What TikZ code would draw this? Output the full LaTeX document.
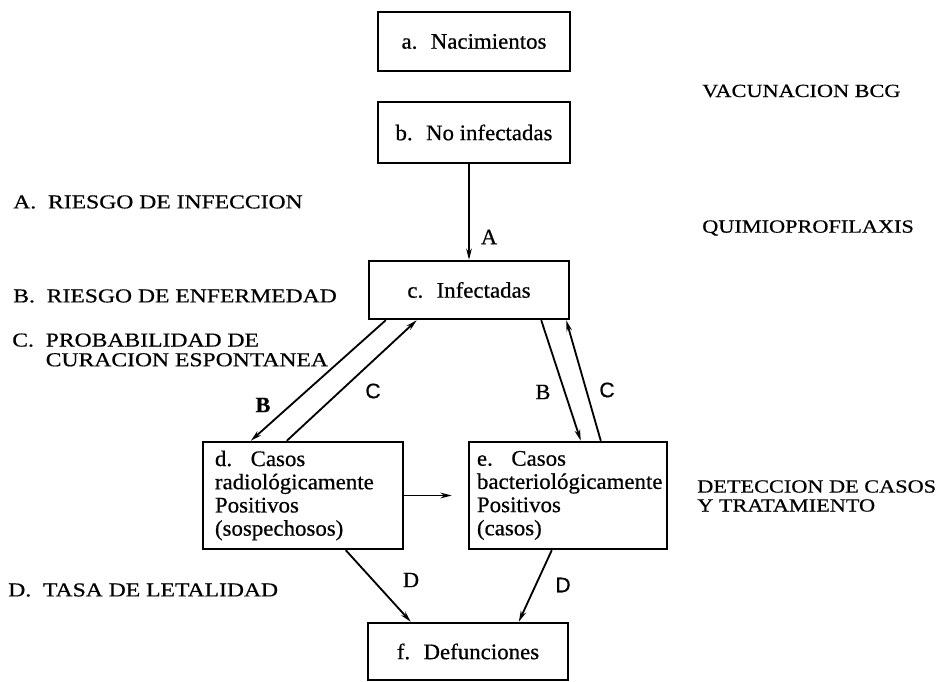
\documentclass[tikz,border=0pt]{standalone}
\usepackage{fontspec}
\setmainfont[FakeStretch=1.03,FakeBold=0.6]{Liberation Serif}
\newfontfamily\capsfont[FakeStretch=1.2,FakeBold=0.6]{Liberation Serif}
\newfontfamily\lettersans[FakeBold=0.6]{Liberation Sans}
\usetikzlibrary{positioning,calc,arrows.meta}

\begin{document}
\begin{tikzpicture}[x=0.025cm, y=-0.025cm,
  box/.style={draw, line width=1.7pt, minimum width=5cm, minimum height=1.5cm, font={\fontsize{15.8}{16.5}\selectfont\hyphenpenalty=10000}},
  casebox/.style={box, minimum height=2.675cm, align=left, inner xsep=#1, text width=5cm-2*#1},
  flow/.style={-{Stealth[length=8pt,width=4pt]}, line width=1.3pt},
  risk/.style={anchor=west, align=left, inner sep=0pt, font=\capsfont\fontsize{14}{14}\selectfont},
  action/.style={anchor=west, align=left, inner sep=0pt, font=\capsfont\fontsize{13.2}{13.5}\selectfont},
  letter/.style={font=\fontsize{15.5}{15}\selectfont},
  sansletter/.style={font=\lettersans\fontsize{15}{15}\selectfont}]

\useasboundingbox (0,0) rectangle (947,682);

\node[box, minimum width=4.8cm, minimum height=1.475cm] (nacim) at (474,41.5) {a.~ Nacimientos};
\node[box, minimum width=4.8cm, minimum height=1.525cm] (noinf) at (474,132.5) {b.~ No infectadas};
\node[box, minimum height=1.45cm] (infect) at (469,290) {c.~ Infectadas};
\node[casebox=0.3cm] (radio) at (303,495.5) {d.~ Casos\\radiológicamente\\Positivos\\(sospechosos)};
\node[casebox=0.2cm, minimum width=4.95cm, text width=4.55cm] (bacter) at (568,495.5) {e.~ Casos\\bacteriológicamente\\Positivos\\(casos)};
\node[box, minimum height=1.425cm] (defun) at (468,651.5) {f.~ Defunciones};

\draw[flow] ($(noinf.south)+(-5,0)$) -- (infect.north);
\draw[flow] ($(infect.south west)+(18,0)$) -- ($(radio.north west)+(49,0)$);
\draw[flow] ($(radio.north west)+(85,0)$) -- ($(infect.south west)+(49,0)$);
\draw[flow] ($(infect.south east)+(-29,0)$) -- ($(bacter.north west)+(113,0)$);
\draw[flow] ($(bacter.north west)+(133,0)$) -- ($(infect.south east)+(-4,0)$);
\draw[flow, shorten >=0.4cm] (radio.east) -- (bacter.west);
\draw[flow] ($(radio.south west)+(144,0)$) -- ($(defun.north west)+(44,0)$);
\draw[flow] ($(bacter.south west)+(84,0)$) -- ($(defun.north west)+(152,0)$);

\node[letter] (lblA) at (489,237) {A};
\node[letter] (lblBl) at (263,405) {\bfseries B};
\node[sansletter] (lblCl) at (373,391) {C};
\node[letter] (lblBr) at (543,392) {B};
\node[sansletter] (lblCr) at (607,390) {C};
\node[letter] (lblDl) at (411,580) {D};
\node[sansletter] (lblDr) at (563,585) {D};

\node[risk] (riskA) at (13,202) {A.~ RIESGO DE INFECCION};
\node[risk] (riskB) at (13,296) {B.~ RIESGO DE ENFERMEDAD};
\node[risk] (riskC) at (12,350) {C.~ PROBABILIDAD DE\\\phantom{C.~ }CURACION ESPONTANEA};
\node[risk] (riskD) at (8,590) {D.~ TASA DE LETALIDAD};

\node[action] (vacuna) at (702,91) {VACUNACION BCG};
\node[action] (quimio) at (702,228) {QUIMIOPROFILAXIS};
\node[action] (detec) at (697,496) {DETECCION DE CASOS\\Y TRATAMIENTO};
\end{tikzpicture}
\end{document}
